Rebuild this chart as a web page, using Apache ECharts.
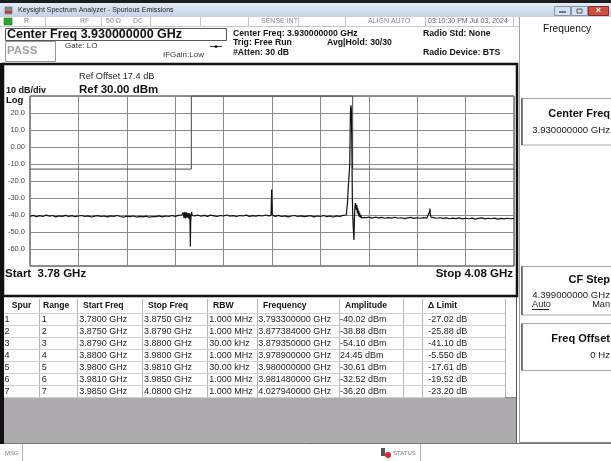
<!DOCTYPE html>
<html>
<head>
<meta charset="utf-8">
<script src="https://cdn.jsdelivr.net/npm/echarts/dist/echarts.min.js"></script>
<style>
html, body { margin: 0; padding: 0; background: #fff; }
#main { width: 611px; height: 461px; }
</style>
</head>
<body>
<div id="main"></div>
<script>
// spurious emission sweep, 3.78 - 4.08 GHz, values in dBm
const trace = [
  [3.780,-40.8],[3.782,-40.2],[3.784,-41.0],[3.786,-40.4],[3.788,-40.9],[3.790,-40.1],[3.792,-40.7],[3.794,-40.3],
  [3.796,-41.1],[3.798,-40.5],[3.800,-40.8],[3.802,-40.2],[3.804,-40.9],[3.806,-40.4],[3.808,-41.0],[3.810,-40.6],
  [3.812,-40.3],[3.814,-40.9],[3.816,-40.5],[3.818,-41.2],[3.820,-40.7],[3.822,-40.4],[3.824,-40.9],[3.826,-40.6],
  [3.828,-41.1],[3.830,-40.5],[3.832,-40.8],[3.834,-40.3],[3.836,-40.9],[3.838,-41.3],[3.840,-40.7],[3.842,-41.0],
  [3.844,-40.6],[3.846,-41.2],[3.848,-40.8],[3.850,-41.1],[3.852,-40.7],[3.854,-41.3],[3.856,-40.9],[3.858,-41.0],
  [3.860,-40.5],[3.862,-41.1],[3.864,-40.6],[3.866,-40.9],[3.868,-40.3],[3.870,-40.8],[3.872,-40.2],[3.874,-40.0],
  [3.8750,-38.6],[3.8755,-41.8],[3.8760,-38.2],[3.8765,-42.0],[3.8770,-38.5],[3.8775,-41.5],[3.8780,-38.9],
  [3.8785,-42.2],[3.8790,-39.0],[3.8792,-45.0],[3.8794,-58.5],[3.8796,-44.0],[3.8799,-40.1],[3.8802,-38.2],
  [3.8805,-40.3],
  [3.882,-40.6],[3.884,-40.0],[3.886,-40.7],[3.888,-40.2],[3.890,-40.8],[3.892,-40.1],[3.894,-40.5],[3.896,-40.9],
  [3.898,-40.3],[3.900,-40.6],[3.902,-40.0],[3.904,-40.7],[3.906,-40.4],[3.908,-40.9],[3.910,-40.3],[3.912,-40.6],
  [3.914,-40.1],[3.916,-40.8],[3.918,-40.4],[3.920,-40.7],[3.922,-40.2],[3.924,-40.6],[3.926,-40.0],[3.928,-40.5],
  [3.9294,-40.2],[3.9296,-33.0],[3.9298,-25.0],[3.9300,-33.0],[3.9302,-40.0],
  [3.932,-40.8],[3.934,-40.2],[3.936,-40.9],[3.938,-40.5],[3.940,-41.1],[3.942,-40.6],[3.944,-40.3],[3.946,-40.9],
  [3.948,-40.5],[3.950,-41.0],[3.952,-40.7],[3.954,-40.4],[3.956,-41.1],[3.958,-40.6],[3.960,-40.9],[3.962,-40.3],
  [3.964,-41.0],[3.966,-40.6],[3.968,-41.2],[3.970,-40.5],[3.972,-40.9],[3.974,-40.2],[3.975,-41.3],[3.976,-40.0],
  [3.9766,-39.5],[3.9768,-33.0],[3.9770,-28.0],[3.9774,-29.0],[3.9778,-27.5],[3.9782,-10.0],[3.9786,20.0],
  [3.9789,24.5],[3.9792,22.0],[3.9795,0.0],[3.9798,-30.0],[3.9801,-42.0],[3.9805,-50.0],[3.9808,-54.7],
  [3.9811,-42.0],[3.9814,-35.0],[3.9817,-33.0],[3.9820,-32.2],[3.9823,-37.0],[3.9826,-34.0],[3.9829,-39.0],
  [3.9832,-36.0],[3.9835,-40.0],[3.9838,-37.5],[3.9841,-41.0],[3.9844,-39.0],[3.9847,-41.5],[3.9850,-40.0],
  [3.9855,-41.6],
  [3.986,-41.0],[3.988,-41.6],[3.990,-41.2],[3.992,-41.8],[3.994,-41.3],[3.996,-41.7],[3.998,-41.4],[4.000,-41.9],
  [4.002,-41.5],[4.004,-41.8],[4.006,-41.3],[4.008,-41.9],[4.010,-41.6],[4.012,-42.1],[4.014,-41.7],[4.016,-41.4],
  [4.018,-42.0],[4.020,-41.6],[4.022,-41.9],[4.024,-41.5],[4.026,-41.8],[4.027,-41.4],[4.0277,-38.0],[4.0279,-36.2],
  [4.0281,-39.0],[4.0285,-41.2],[4.030,-41.5],[4.032,-41.9],[4.034,-41.6],[4.036,-42.0],[4.038,-41.7],[4.040,-42.2],
  [4.042,-41.8],[4.044,-42.1],[4.046,-41.7],[4.048,-42.3],[4.050,-41.9],[4.052,-42.2],[4.054,-41.8],[4.056,-42.4],
  [4.058,-42.0],[4.060,-41.7],[4.062,-42.3],[4.064,-41.9],[4.066,-42.2],[4.068,-41.8],[4.070,-42.4],[4.072,-42.0],
  [4.074,-42.3],[4.076,-41.9],[4.078,-42.2],[4.080,-42.0]
];

// limit mask
const limitFreq = [3.78, 3.88, 3.88, 3.98, 3.98, 4.08];
const limitLevel = [-13, -13, 30, 30, -13, -13];

// axis
const freqMin = 3.78, freqMax = 4.08, freqDiv = 0.03;
const refLevel = 30, bottomLevel = -70, dbPerDiv = 10;

// spur table
const tableHead = ['Spur', 'Range', 'Start Freq', 'Stop Freq', 'RBW', 'Frequency', 'Amplitude', '', '\u0394 Limit'];
const spurNo = ['1', '2', '3', '4', '5', '6', '7'];
const rangeNo = ['1', '2', '3', '4', '5', '6', '7'];
const startFreq = ['3.7800 GHz', '3.8750 GHz', '3.8790 GHz', '3.8800 GHz', '3.9800 GHz', '3.9810 GHz', '3.9850 GHz'];
const stopFreq = ['3.8750 GHz', '3.8790 GHz', '3.8800 GHz', '3.9800 GHz', '3.9810 GHz', '3.9850 GHz', '4.0800 GHz'];
const rbw = ['1.000 MHz', '1.000 MHz', '30.00 kHz', '1.000 MHz', '30.00 kHz', '1.000 MHz', '1.000 MHz'];
const spurFreq = ['3.793300000 GHz', '3.877384000 GHz', '3.879350000 GHz', '3.978900000 GHz', '3.980000000 GHz', '3.981480000 GHz', '4.027940000 GHz'];
const amplitude = ['-40.02 dBm', '-38.88 dBm', '-54.10 dBm', '24.45 dBm', '-30.61 dBm', '-32.52 dBm', '-36.20 dBm'];
const deltaLimit = ['-27.02 dB', '-25.88 dB', '-41.10 dB', '-5.550 dB', '-17.61 dB', '-19.52 dB', '-23.20 dB'];

const FONT = '"Liberation Sans", Arial, sans-serif';

function txt(x, y, s, size, opt) {
    opt = opt || {};
    return {
        type: 'text', x: x, y: y, z: opt.z || 20, silent: true,
        style: {
            text: s,
            fill: opt.color || '#111',
            font: (opt.bold ? 'bold ' : '') + size + 'px ' + FONT,
            align: opt.align || 'left',
            verticalAlign: 'middle'
        }
    };
}
function rect(x, y, w, h, fill, stroke, lw, z) {
    return {
        type: 'rect', z: z == null ? 5 : z, silent: true,
        shape: { x: x, y: y, width: w, height: h },
        style: { fill: fill || 'none', stroke: stroke || null, lineWidth: lw || 1 }
    };
}
function line(x1, y1, x2, y2, color, lw, z) {
    return {
        type: 'line', z: z == null ? 6 : z, silent: true,
        shape: { x1: x1, y1: y1, x2: x2, y2: y2 },
        style: { stroke: color, lineWidth: lw || 1 }
    };
}

let g = [];

// window title bar
g.push(rect(0, 0, 611, 3, '#1c1c1c', null, 1, 1));
g.push({
    type: 'rect', z: 1, silent: true, shape: { x: 0, y: 3, width: 611, height: 14 },
    style: { fill: new echarts.graphic.LinearGradient(0, 0, 0, 1, [
        { offset: 0, color: '#e3ebf5' }, { offset: 1, color: '#c3d2e5' }]) }
});
g.push(rect(5, 7, 7, 7, '#8a8a8a', '#555', 0.5, 3));
g.push(rect(5, 11, 7, 2, '#d03030', null, 1, 4));
g.push(txt(18, 10.5, 'Keysight Spectrum Analyzer - Spurious Emissions', 7, { color: '#222' }));
g.push(rect(554.5, 6.5, 16, 9, '#d5e1ef', '#8096b4', 1, 3));
g.push(line(559, 12, 566, 12, '#556', 1.5, 4));
g.push(rect(571.5, 6.5, 16, 9, '#d5e1ef', '#8096b4', 1, 3));
g.push(rect(577, 9, 5, 4, 'none', '#556', 1, 4));
g.push(rect(588.5, 6.5, 20, 9, '#d0503f', '#8a2a20', 1, 3));
g.push(txt(598.5, 11, '\u00d7', 9, { color: '#fff', bold: true, align: 'center' }));

// status row
g.push(line(0, 26.5, 519, 26.5, '#c8c8c8', 1, 2));
g.push(rect(4, 18, 8, 7, '#2aa52a', '#176617', 0.5, 3));
[45.5, 101.5, 150.5, 200.5, 248.5, 298.5, 345.5, 425.5, 513.5].forEach(function (x) {
    g.push(line(x, 17, x, 26, '#c4c4c4', 1, 2));
});
g.push(txt(24, 21.5, 'R', 7, { color: '#777' }));
g.push(txt(80, 21.5, 'RF', 7, { color: '#888' }));
g.push(txt(106, 21.5, '50 \u03a9', 7, { color: '#888' }));
g.push(txt(133, 21.5, 'DC', 7, { color: '#888' }));
g.push(txt(261, 21.5, 'SENSE:INT', 7, { color: '#888' }));
g.push(txt(368, 21.5, 'ALIGN AUTO', 7, { color: '#888' }));
g.push(txt(428, 21.5, '03:10:30 PM Jul 03, 2024', 7, { color: '#666' }));

// measurement header
g.push(rect(5.5, 28.5, 221, 12, '#fff', '#555', 1, 3));
g.push(txt(7, 35, 'Center Freq 3.930000000 GHz', 12.5, { bold: true }));
g.push(rect(5.5, 41.5, 50, 20, '#fff', '#999', 1, 3));
g.push(txt(7, 51, 'PASS', 11.5, { bold: true, color: '#a3a3a3' }));
g.push(txt(65, 46, 'Gate: LO', 8, { color: '#333' }));
g.push(line(210, 46.5, 222, 46.5, '#333', 1, 4));
g.push({ type: 'circle', z: 5, silent: true, shape: { cx: 216, cy: 46.5, r: 1.5 }, style: { fill: '#222' } });
g.push(txt(163, 54.5, 'IFGain:Low', 8, { color: '#333' }));
g.push(txt(233, 33.5, 'Center Freq: 3.930000000 GHz', 8.7, { bold: true }));
g.push(txt(233, 43, 'Trig: Free Run', 8.7, { bold: true }));
g.push(txt(233, 52.5, '#Atten: 30 dB', 8.7, { bold: true }));
g.push(txt(327, 43, 'Avg|Hold: 30/30', 8.7, { bold: true }));
g.push(txt(423, 33.5, 'Radio Std: None', 8.7, { bold: true }));
g.push(txt(423, 52.5, 'Radio Device: BTS', 8.7, { bold: true }));

// graph panel frame and annotations
g.push(rect(3, 64, 514, 232, 'none', '#111', 2.5, 8));
g.push(rect(0, 63, 4, 381, '#111', null, 1, 8));
g.push(txt(6, 90.5, '10 dB/div', 9, { bold: true }));
g.push(rect(5, 95, 24, 9, '#fff', null, 1, 9));
g.push(txt(6, 100, 'Log', 9.5, { bold: true, z: 21 }));
g.push(txt(79, 76, 'Ref Offset 17.4 dB', 9.2, { color: '#222' }));
g.push(txt(79, 89.5, 'Ref 30.00 dBm', 11.5, { bold: true }));
g.push(txt(5, 273.5, 'Start  3.78 GHz', 11.5, { bold: true }));
g.push(txt(513, 273.5, 'Stop 4.08 GHz', 11.5, { bold: true, align: 'right' }));

// spur table
const colX = [3, 39.3, 77.3, 141.7, 207.3, 256.7, 339.3, 403.3, 421.7, 505];
const headX = [11.7, 43, 83, 148, 213, 263, 345, 0, 428];
const cellPad = [1.5, 2.4, 2, 2.3, 2, 1.6, 0.7, 0, 6.6];
const rowTop = 313, rowH = 12;
g.push(rect(4, 298, 513, 99, '#fff', null, 1, 2));
g.push(rect(4, 397, 513, 46, '#adabad', null, 1, 2));
g.push(line(4, 397.5, 517, 397.5, '#8a8a8a', 1, 3));
g.push(line(516.5, 297, 516.5, 443, '#555', 1, 3));
colX.forEach(function (x, i) {
    if (i > 0) g.push(line(Math.round(x) + 0.5, 299, Math.round(x) + 0.5, 397, '#b5b5b5', 1, 3));
});
for (let r = 0; r <= spurNo.length; r++) {
    g.push(line(4, rowTop + r * rowH + 0.5, 505, rowTop + r * rowH + 0.5, '#cfcfcf', 1, 3));
}
tableHead.forEach(function (h, i) {
    if (h) g.push(txt(headX[i], 306, h, 8.6, { bold: true }));
});
const tableCols = [spurNo, rangeNo, startFreq, stopFreq, rbw, spurFreq, amplitude, null, deltaLimit];
tableCols.forEach(function (col, i) {
    if (!col) return;
    col.forEach(function (v, r) {
        g.push(txt(colX[i] + cellPad[i], rowTop + r * rowH + 6.5, v, 9, { color: '#222' }));
    });
});

// softkey panel
g.push(line(519.5, 17, 519.5, 443, '#a0a0a0', 1, 3));
g.push(line(519, 442.5, 611, 442.5, '#8a8a8a', 1, 3));
g.push(txt(567, 29, 'Frequency', 10.2, { align: 'center', color: '#111' }));
[[98.5, 46.5], [266.5, 48.5], [323.5, 47]].forEach(function (b) {
    g.push(rect(521.5, b[0], 92, b[1], '#fff', '#a8a8a8', 1, 3));
    g.push(line(522, b[0], 522, b[0] + b[1], '#555', 1.5, 4));
});
g.push(txt(610, 113.5, 'Center Freq', 11, { bold: true, align: 'right' }));
g.push(txt(610, 130.5, '3.930000000 GHz', 9.6, { align: 'right', color: '#222' }));
g.push(txt(610, 280, 'CF Step', 11, { bold: true, align: 'right' }));
g.push(txt(610, 295, '4.399000000 GHz', 9.6, { align: 'right', color: '#222' }));
g.push(txt(532, 304.5, 'Auto', 9.2, { color: '#222' }));
g.push(line(532, 309.5, 549, 309.5, '#222', 1, 5));
g.push(txt(610, 304.5, 'Man', 9.2, { align: 'right', color: '#222' }));
g.push(txt(610, 338.5, 'Freq Offset', 11, { bold: true, align: 'right' }));
g.push(txt(610, 355, '0 Hz', 9.6, { align: 'right', color: '#222' }));

// message bar
g.push(line(0, 443.5, 611, 443.5, '#777', 1, 3));
g.push(line(22.5, 444, 22.5, 461, '#b0b0b0', 1, 3));
g.push(line(420.5, 444, 420.5, 461, '#b0b0b0', 1, 3));
g.push(txt(5, 453, 'MSG', 6, { color: '#777' }));
g.push(rect(381, 448, 4, 8, '#555', null, 1, 4));
g.push({ type: 'circle', z: 5, silent: true, shape: { cx: 388, cy: 455, r: 3 }, style: { fill: '#e02424' } });
g.push(txt(393, 453, 'STATUS', 6, { color: '#777' }));

const option = {
    backgroundColor: '#fff',
    animation: false,
    grid: {
        left: 30, top: 96, width: 484, height: 170,
        show: true, borderColor: '#222', borderWidth: 1, backgroundColor: 'transparent'
    },
    xAxis: {
        type: 'value', min: freqMin, max: freqMax, interval: freqDiv,
        axisLabel: { show: false }, axisTick: { show: false }, axisLine: { show: false },
        splitLine: { lineStyle: { color: '#8a8a8a', width: 1 } }
    },
    yAxis: {
        type: 'value', min: bottomLevel, max: refLevel, interval: dbPerDiv,
        axisTick: { show: false }, axisLine: { show: false },
        axisLabel: {
            margin: 5, fontSize: 7.5, color: '#444', fontFamily: FONT,
            formatter: function (v) {
                if (v === refLevel || v === bottomLevel) return '';
                return v === 0 ? '0.00' : v.toFixed(1);
            }
        },
        splitLine: { lineStyle: { color: '#8a8a8a', width: 1 } }
    },
    series: [
        {
            type: 'line', symbol: 'none', z: 3, silent: true,
            data: limitFreq.map(function (f, i) { return [f, limitLevel[i]]; }),
            lineStyle: { color: '#4a4a4a', width: 1 }
        },
        {
            type: 'line', symbol: 'none', z: 4, silent: true,
            data: trace,
            lineStyle: { color: '#111', width: 1.2 }
        }
    ],
    graphic: g
};

const chart = echarts.init(document.getElementById('main'));
chart.setOption(option);
window.addEventListener('resize', function () { chart.resize(); });
</script>
</body>
</html>
